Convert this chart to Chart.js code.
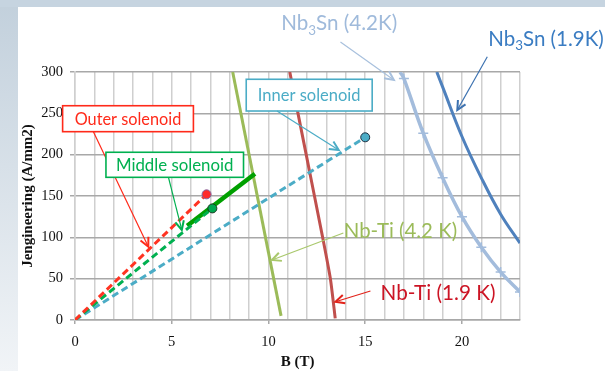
<!DOCTYPE html>
<html>
<head>
<meta charset="utf-8">
<script src="https://cdn.jsdelivr.net/npm/chart.js@4.4.0/dist/chart.umd.min.js"></script>
<style>
  html, body { margin: 0; padding: 0; width: 605px; height: 371px; overflow: hidden; }
  #leftband { position: absolute; left: 0; top: 0; width: 18px; height: 371px;
    background: linear-gradient(to bottom, #c2d0dc, #f1f4f7); }
  #topband { position: absolute; left: 0; top: 0; width: 605px; height: 7px; background: #c6d4e0; }
  #panel { position: absolute; left: 18px; top: 7px; right: 0; bottom: 0; background: #fff; }
  #c { position: absolute; left: 0; top: 0; }
</style>
</head>
<body>
<div id="leftband"></div>
<div id="topband"></div>
<div id="panel"></div>
<canvas id="c" width="605" height="371"></canvas>
<script>
// load lines of the three solenoids (B in T, J in A/mm2)
var outerB = [0, 6.8],  outerJ = [0, 152];
var middleB = [0, 7.1], middleJ = [0, 135];
var innerB = [0, 15],   innerJ = [0, 221];
var middleOpB = [5.8, 9.3], middleOpJ = [114, 177];
// critical current curves
var nbti42B = [8.15, 10.65], nbti42J = [300, 5];
var nbti19B = [11.1, 11.95, 12.8, 13.2, 13.45], nbti19J = [300, 200, 100, 50, 2];
var sn42B = [16.8, 17, 18, 19, 20, 21, 22, 23], sn42J = [300, 292, 226, 172, 125, 88, 58, 34];
var sn19B = [18.7, 19, 20, 21, 22, 23], sn19J = [300, 282, 222, 172, 128, 93];

var yTicks = [0, 50, 100, 150, 200, 250, 300];

function pts(bs, js) { return bs.map((b, i) => ({x: b, y: js[i]})); }

// text boxes with arrows, placed in data units
var boxes = [
  {text: 'Outer solenoid', x0: -0.64, x1: 6.12, y0: 259.2, y1: 227.8, color: '#ff2a1a', w: 106.6, size: 16,
   ax: 0.95, ay: 227.8, tx: 3.79, ty: 88.7},
  {text: 'Middle solenoid', x0: 1.6, x1: 8.71, y0: 202.9, y1: 172.6, color: '#00b050', w: 117.7, size: 16,
   ax: 4.83, ay: 172.6, tx: 5.52, ty: 108.9},
  {text: 'Inner solenoid', x0: 8.85, x1: 15.36, y0: 291.2, y1: 252.8, color: '#4bacc6', w: 102.7, size: 16,
   ax: 10.44, ay: 252.8, tx: 13.63, ty: 205.6}
];
var labels = [
  {parts: ['Nb', '_3', 'Sn (4.2K)'], x: 10.66, y: 350.8, color: '#9fbadb', w: 116, size: 19,
   ax: 13.72, ay: 336.3, tx: 16.48, ty: 290.3, acolor: '#a8c0dd'},
  {parts: ['Nb', '_3', 'Sn (1.9K)'], x: 21.36, y: 332, color: '#3a7cc2', w: 115.6, size: 19,
   ax: 21.31, ay: 318.5, tx: 19.76, ty: 254, acolor: '#3d72b0'},
  {parts: ['Nb-Ti (4.2 K)'], x: 13.89, y: 98.8, color: '#9bbb59', w: 113.4, size: 18,
   ax: 13.87, ay: 105.2, tx: 10.18, ty: 72.6, acolor: '#a9c86c'},
  {parts: ['Nb-Ti (1.9 K)'], x: 15.79, y: 24.2, color: '#cc1424', w: 115, size: 18,
   ax: 15.27, ay: 35.1, tx: 13.46, ty: 22.1, acolor: '#e2231a'}
];
var annoFont = 'Lato, "Open Sans", sans-serif';

function arrow(ctx, x1, y1, x2, y2, color) {
  ctx.strokeStyle = color;
  ctx.lineWidth = 1.2;
  ctx.beginPath(); ctx.moveTo(x1, y1); ctx.lineTo(x2, y2); ctx.stroke();
  var a = Math.atan2(y2 - y1, x2 - x1), L = 10;
  ctx.lineWidth = 2;
  ctx.beginPath();
  ctx.moveTo(x2 - L * Math.cos(a - 0.45), y2 - L * Math.sin(a - 0.45));
  ctx.lineTo(x2, y2);
  ctx.lineTo(x2 - L * Math.cos(a + 0.45), y2 - L * Math.sin(a + 0.45));
  ctx.stroke();
}

function partsWidth(ctx, parts, s) {
  var w = 0;
  parts.forEach(p => {
    var sub = p[0] === '_';
    ctx.font = (sub ? s * 0.65 : s) + 'px ' + annoFont;
    w += ctx.measureText(sub ? p.slice(1) : p).width;
  });
  return w;
}

function drawParts(ctx, parts, x, y, size, target, color) {
  var s = size * target / partsWidth(ctx, parts, size);
  ctx.fillStyle = color;
  ctx.textBaseline = 'alphabetic';
  ctx.textAlign = 'left';
  parts.forEach(p => {
    var sub = p[0] === '_';
    var t = sub ? p.slice(1) : p;
    ctx.font = (sub ? s * 0.65 : s) + 'px ' + annoFont;
    ctx.fillText(t, x, sub ? y + s * 0.22 : y);
    x += ctx.measureText(t).width;
  });
}

var annotations = {
  id: 'annotations',
  afterDatasetsDraw(chart) {
    var ctx = chart.ctx, xs = chart.scales.x, ys = chart.scales.y;
    var px = v => xs.getPixelForValue(v), py = v => ys.getPixelForValue(v);
    ctx.save();
    boxes.forEach(b => {
      var l = px(b.x0), r = px(b.x1), t = py(b.y0), bt = py(b.y1);
      ctx.fillStyle = '#fff';
      ctx.fillRect(l, t, r - l, bt - t);
      ctx.strokeStyle = b.color; ctx.lineWidth = 1.6;
      ctx.strokeRect(l, t, r - l, bt - t);
      var s = b.size * b.w / partsWidth(ctx, [b.text], b.size);
      drawParts(ctx, [b.text], (l + r) / 2 - b.w / 2, (t + bt) / 2 + s * 0.36, b.size, b.w, b.color);
      arrow(ctx, px(b.ax), py(b.ay), px(b.tx), py(b.ty), b.color);
    });
    labels.forEach(a => {
      drawParts(ctx, a.parts, px(a.x), py(a.y), a.size, a.w, a.color);
      arrow(ctx, px(a.ax), py(a.ay), px(a.tx), py(a.ty), a.acolor);
    });
    ctx.restore();
  }
};

var serif = '"Liberation Serif", "Times New Roman", serif';

new Chart(document.getElementById('c'), {
  type: 'scatter',
  data: {
    datasets: [
      {data: pts(outerB, outerJ), showLine: true, borderColor: '#ff3322', borderWidth: 3, borderDash: [7, 4],
       pointRadius: [0, 4.5], pointBackgroundColor: '#ff2a2a', pointBorderColor: '#8064a2', pointBorderWidth: 1},
      {data: pts(middleB, middleJ), showLine: true, borderColor: '#00b050', borderWidth: 3, borderDash: [7, 4],
       pointRadius: [0, 4.5], pointBackgroundColor: '#00a850', pointBorderColor: '#1d3a22', pointBorderWidth: 1},
      {data: pts(innerB, innerJ), showLine: true, borderColor: '#4bacc6', borderWidth: 3, borderDash: [7, 4],
       pointRadius: [0, 4.5], pointBackgroundColor: '#4bacc6', pointBorderColor: '#1f3344', pointBorderWidth: 1},
      {data: pts(middleOpB, middleOpJ), showLine: true, borderColor: '#00a000', borderWidth: 4.5, pointRadius: 0},
      {data: pts(nbti42B, nbti42J), showLine: true, borderColor: '#9bbb59', borderWidth: 3, pointRadius: 0},
      {data: pts(nbti19B, nbti19J), showLine: true, borderColor: '#c0504d', borderWidth: 3, pointRadius: 0, tension: 0.2},
      {data: pts(sn42B, sn42J), showLine: true, borderColor: '#a3bcdc', borderWidth: 3.5, tension: 0.4,
       pointStyle: 'cross', pointRadius: [0, 5, 5, 5, 5, 5, 5, 5], pointBorderColor: '#a3bcdc', pointBorderWidth: 1.5},
      {data: pts(sn19B, sn19J), showLine: true, borderColor: '#4f81bd', borderWidth: 3, pointRadius: 0, tension: 0.4}
    ]
  },
  options: {
    responsive: false,
    animation: false,
    devicePixelRatio: 1,
    layout: {padding: {left: 0, right: 85, top: 72, bottom: 0}},
    plugins: {legend: {display: false}, tooltip: {enabled: false}},
    scales: {
      x: {
        type: 'linear', min: 0, max: 23,
        afterFit: s => { s.height = 51; },
        ticks: {stepSize: 1, autoSkip: false, maxRotation: 0, padding: 9, color: '#111',
          font: {family: serif, size: 14.5},
          callback: v => v % 5 === 0 ? v : ''},
        grid: {color: '#cfcfcf', lineWidth: 1.5, tickLength: 4,
          tickColor: c => (c.tick && c.tick.value % 5 === 0) ? '#a8a8a8' : 'rgba(0,0,0,0)'},
        border: {color: '#a8a8a8', width: 1.5},
        title: {display: true, text: 'B (T)', color: '#111',
          font: {family: serif, size: 15, weight: 'bold'}, padding: {top: 0, bottom: 0}}
      },
      y: {
        min: 0, max: 300,
        afterFit: s => { s.width = 75; },
        afterBuildTicks: s => { s.ticks = yTicks.map(v => ({value: v})); },
        ticks: {padding: 7, color: '#111', font: {family: serif, size: 14.5}},
        grid: {color: '#a8a8a8', lineWidth: 1.5, tickLength: 5},
        border: {color: '#cfcfcf', width: 1.5},
        title: {display: true, text: 'Jengineering (A/mm2)', color: '#111',
          font: {family: serif, size: 15, weight: 'bold'}, padding: {top: 19, bottom: 0}}
      }
    }
  },
  plugins: [annotations]
});
</script>
</body>
</html>
